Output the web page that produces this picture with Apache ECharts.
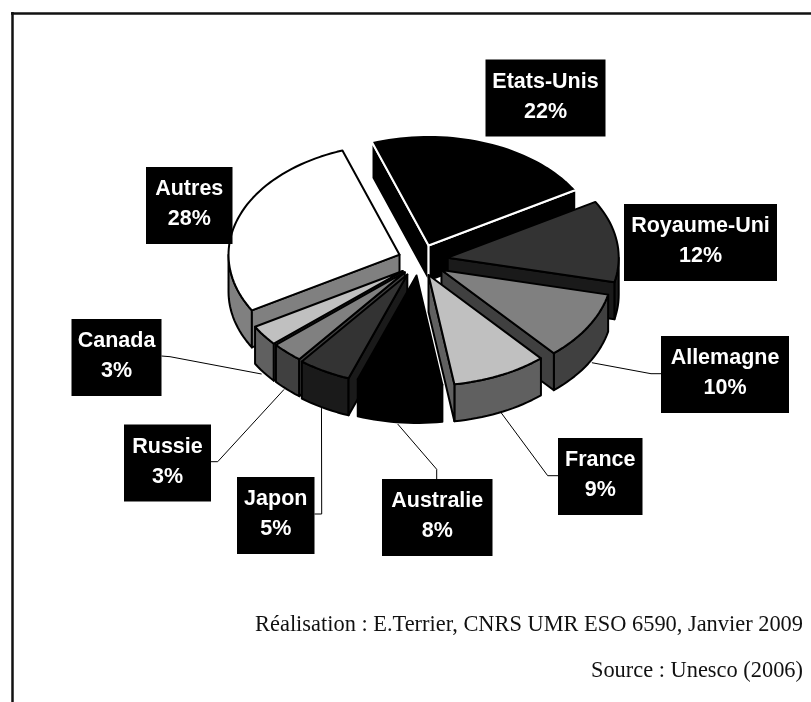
<!DOCTYPE html>
<html>
<head>
<meta charset="utf-8">
<style>html,body{margin:0;padding:0;background:#fff}#chart{width:811px;height:702px}</style>
<script src="https://cdn.jsdelivr.net/npm/echarts@6/dist/echarts.min.js"></script>
</head>
<body>
<div id="chart"></div>
<script>
// ---- data ----
const categories = ['Etats-Unis','Royaume-Uni','Allemagne','France','Australie','Japon','Russie','Canada','Autres'];
const shares = [22,12,10,9,8,5,3,3,28];
const footerLines = ['Réalisation : E.Terrier, CNRS UMR ESO 6590, Janvier 2009','Source : Unesco (2006)'];

// ---- styles and layout (no values here) ----
const topColors  = ['#000000','#333333','#808080','#c0c0c0','#000000','#333333','#808080','#c0c0c0','#ffffff'];
const wallColors = ['#000000','#1a1a1a','#404040','#606060','#000000','#1a1a1a','#404040','#606060','#808080'];
const edgeColors = ['#ffffff','#000000','#000000','#000000','#000000','#000000','#000000','#000000','#000000'];
const apexNudges = [[-3,0],[0,0],[-3,2],[-5,1],[-4,0],[-3.5,1],[-1,1],[0,2],[0,0]];
const labelBoxes = [
  [485.5,59.5,120,77],[624,204,153,77],[661,336,128,77],[558,438,84.5,77],[382,479,110.5,77],
  [237,477,77.5,77],[124,424.5,87,77],[71.5,319,90,77],[146,167,86.5,77]
];
const leaderElbows = [
  null,null,
  {box:[661,373.7],elbow:[651,373.7],nudge:[3.7,-1]},
  {box:[558,475.7],elbow:[547.7,475.7],nudge:[0.8,0.7]},
  {box:[436.7,479],elbow:[436.7,469.3],nudge:[-1.8,1.7]},
  {box:[314.5,514],elbow:[321.7,514],nudge:[-2.7,0]},
  {box:[211,461.7],elbow:[217.7,461.7],nudge:[-3,0]},
  {box:[161.5,356],elbow:[170,356.7],nudge:[-2.2,1.5]},
  null
];
const pie = {cx:423, cy:260, rx:171, ry:110.5, depth:37, explode:25, startDeg:-19.5};

const total = shares.reduce((a,b)=>a+b,0);
const rad = d => d*Math.PI/180;
function sliceOf(i){
  let sum = 0; for(let k=0;k<i;k++) sum += shares[k];
  const a0 = pie.startDeg + sum/total*360, a1 = a0 + shares[i]/total*360, mid=(a0+a1)/2;
  return {a0,a1,mid,
    ax: pie.cx + pie.explode*Math.sin(rad(mid)) + apexNudges[i][0],
    ay: pie.cy - pie.explode*0.62*Math.cos(rad(mid)) + apexNudges[i][1]};
}
function rim(s,deg,dy){
  return [s.ax + pie.rx*Math.sin(rad(deg)), s.ay - pie.ry*Math.cos(rad(deg)) + (dy||0)];
}
function arcPts(s,from,to,dy){
  const n = Math.max(2,Math.ceil(Math.abs(to-from)/2)), pts=[];
  for(let k=0;k<=n;k++) pts.push(rim(s,from+(to-from)*k/n,dy));
  return pts;
}
function poly(points,fill,stroke){
  return {type:'polygon',shape:{points},
    style:{fill,stroke,lineWidth:2,lineJoin:'round'}};
}
function renderSlice(params,api){
  const i = api.value(0), s = sliceOf(i), d = pie.depth, wall = wallColors[i], edge = edgeColors[i];
  const kids = [];
  const apex = [s.ax,s.ay], apexLow = [s.ax,s.ay+d];
  const sinA0 = Math.sin(rad(s.a0)), sinA1 = Math.sin(rad(s.a1));
  const f0 = Math.max(s.a0,90), f1 = Math.min(s.a1,270);
  if(f1>f0){
    kids.push(poly(arcPts(s,f0,f1,0).concat(arcPts(s,f1,f0,d)),wall,edge));
  }
  if(sinA0<0){ kids.push(poly([apex,rim(s,s.a0),rim(s,s.a0,d),apexLow],wall,edge)); }
  if(sinA1>0){ kids.push(poly([apex,rim(s,s.a1),rim(s,s.a1,d),apexLow],wall,edge)); }
  const top = [apex].concat(arcPts(s,s.a0,s.a1,0));
  kids.push(poly(top,topColors[i],edge));
  return {type:'group',children:kids};
}
function renderLeader(params,api){
  const i = api.value(0), L = leaderElbows[i];
  if(!L) return null;
  const s = sliceOf(i), p = rim(s,s.mid,pie.depth);
  return {type:'polyline',shape:{points:[L.box,L.elbow,[p[0]+L.nudge[0],p[1]+L.nudge[1]]]},
    style:{fill:'none',stroke:'#000',lineWidth:1}};
}
function renderLabel(params,api){
  const i = api.value(0), b = labelBoxes[i];
  return {type:'group',children:[
    {type:'rect',shape:{x:b[0],y:b[1],width:b[2],height:b[3]},style:{fill:'#000'}},
    {type:'text',x:b[0]+b[2]/2,y:b[1]+b[3]/2-1,style:{
      text:categories[i]+'\n'+shares[i]+'%',align:'center',verticalAlign:'middle',
      fill:'#fff',font:'bold 21.5px "Liberation Sans"',lineHeight:30}}
  ]};
}
const drawOrder = categories.map((_,i)=>i).sort((a,b)=>
  (-Math.cos(rad(sliceOf(a).mid))) - (-Math.cos(rad(sliceOf(b).mid))));
const indexData = categories.map((n,i)=>[i,shares[i],n]);

const chart = echarts.init(document.getElementById('chart'),null,{renderer:'canvas'});
chart.setOption({
  animation:false,
  backgroundColor:'#fff',
  graphic:[
    {type:'line',shape:{x1:11,y1:13.5,x2:811,y2:13.5},style:{stroke:'#111',lineWidth:2.5}},
    {type:'line',shape:{x1:12.5,y1:12,x2:12.5,y2:702},style:{stroke:'#111',lineWidth:2.5}},
    {type:'text',x:803,y:625,style:{text:footerLines[0],align:'right',verticalAlign:'middle',
      fill:'#111',font:'22.4px "Liberation Serif"'}},
    {type:'text',x:803,y:671,style:{text:footerLines[1],align:'right',verticalAlign:'middle',
      fill:'#111',font:'22.4px "Liberation Serif"'}}
  ],
  series:[
    {type:'custom',name:'leaders',coordinateSystem:'none',z:1,silent:true,renderItem:renderLeader,data:indexData},
    {type:'custom',name:'parts',coordinateSystem:'none',z:2,silent:true,renderItem:renderSlice,
      data:drawOrder.map(i=>indexData[i])},
    {type:'custom',name:'labels',coordinateSystem:'none',z:3,silent:true,renderItem:renderLabel,data:indexData}
  ]
});
</script>
</body>
</html>
